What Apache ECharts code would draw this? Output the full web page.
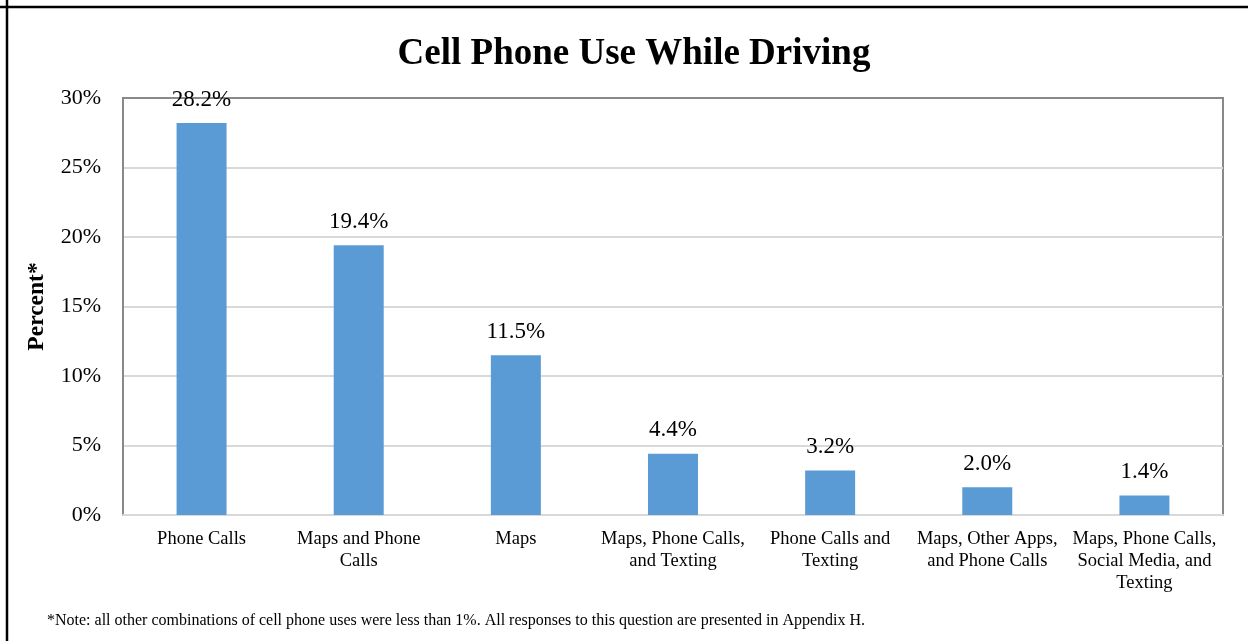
<!DOCTYPE html>
<html>
<head>
<meta charset="utf-8">
<script src="https://cdn.jsdelivr.net/npm/echarts@6/dist/echarts.min.js"></script>
<style>
  html, body { margin: 0; padding: 0; background: #fff; }
  #chart { width: 1248px; height: 641px; }
</style>
</head>
<body>
<div id="chart"></div>
<script>
const categories = [
  'Phone Calls',
  'Maps and Phone\nCalls',
  'Maps',
  'Maps, Phone Calls,\nand Texting',
  'Phone Calls and\nTexting',
  'Maps, Other Apps,\nand Phone Calls',
  'Maps, Phone Calls,\nSocial Media, and\nTexting'
];
const percents = [28.2, 19.4, 11.5, 4.4, 3.2, 2.0, 1.4];
const yTicks = { min: 0, max: 30, interval: 5 };

const serif = '"Liberation Serif", "Times New Roman", serif';

const chart = echarts.init(document.getElementById('chart'));

chart.setOption({
  animation: false,
  backgroundColor: '#fff',
  title: {
    text: 'Cell Phone Use While Driving',
    left: 629,
    textAlign: 'center',
    top: 31,
    textStyle: { fontFamily: serif, fontSize: 37, fontWeight: 'bold', color: '#000' }
  },
  grid: {
    left: 123, right: 25, top: 98, bottom: 126,
    show: true, borderColor: '#898989', borderWidth: 2
  },
  xAxis: {
    type: 'category',
    data: categories,
    axisLine: { lineStyle: { color: '#d9d9d9', width: 2 } },
    axisTick: { show: false },
    axisLabel: {
      interval: 0, margin: 13, color: '#000',
      fontFamily: serif, fontSize: 18.5, lineHeight: 22
    }
  },
  yAxis: {
    type: 'value',
    min: yTicks.min, max: yTicks.max, interval: yTicks.interval,
    name: 'Percent*',
    nameLocation: 'middle',
    nameGap: 74,
    nameTextStyle: { fontFamily: serif, fontSize: 23.5, fontWeight: 'bold', color: '#000' },
    axisLine: { show: true, lineStyle: { color: '#898989', width: 2 } },
    axisTick: { show: false },
    splitLine: { showMaxLine: false, lineStyle: { color: '#d9d9d9', width: 2 } },
    axisLabel: {
      formatter: '{value}%', margin: 22, color: '#000',
      fontFamily: serif, fontSize: 22
    }
  },
  series: [{
    type: 'bar',
    data: percents,
    barWidth: 50,
    itemStyle: { color: '#5B9BD5' },
    label: {
      show: true, position: 'top', distance: 12,
      formatter: p => p.value.toFixed(1) + '%',
      fontFamily: serif, fontSize: 23, color: '#000'
    }
  }],
  graphic: [
    { type: 'line', shape: { x1: 7, y1: 0, x2: 7, y2: 641 }, style: { stroke: '#000', lineWidth: 2.5 } },
    { type: 'line', shape: { x1: 0, y1: 7, x2: 1248, y2: 7 }, style: { stroke: '#000', lineWidth: 2.5 } },
    {
      type: 'text', left: 47, top: 613,
      style: {
        text: '*Note: all other combinations of cell phone uses were less than 1%. All responses to this question are presented in Appendix H.',
        font: '16px ' + serif, fill: '#000'
      }
    }
  ]
});
</script>
</body>
</html>
